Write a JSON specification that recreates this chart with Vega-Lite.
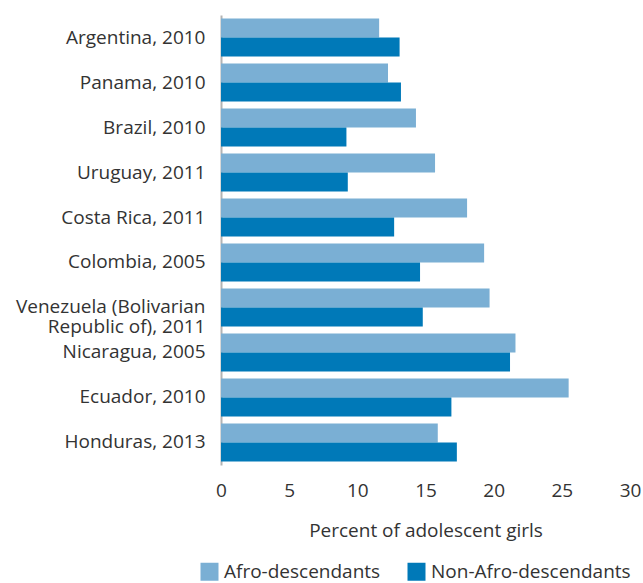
{
  "$schema": "https://vega.github.io/schema/vega-lite/v6.json",
  "width": 409,
  "height": 450,
  "autosize": {"type": "none"},
  "padding": {"left": 221, "top": 15, "right": 13, "bottom": 118},
  "background": "white",
  "config": {
    "view": {"stroke": null},
    "font": "Open Sans"
  },
  "data": {
    "values": [
      {"country": "Argentina, 2010", "group": "Afro-descendants", "value": 11.6},
      {"country": "Argentina, 2010", "group": "Non-Afro-descendants", "value": 13.1},
      {"country": "Panama, 2010", "group": "Afro-descendants", "value": 12.25},
      {"country": "Panama, 2010", "group": "Non-Afro-descendants", "value": 13.2},
      {"country": "Brazil, 2010", "group": "Afro-descendants", "value": 14.3},
      {"country": "Brazil, 2010", "group": "Non-Afro-descendants", "value": 9.2},
      {"country": "Uruguay, 2011", "group": "Afro-descendants", "value": 15.7},
      {"country": "Uruguay, 2011", "group": "Non-Afro-descendants", "value": 9.3},
      {"country": "Costa Rica, 2011", "group": "Afro-descendants", "value": 18.05},
      {"country": "Costa Rica, 2011", "group": "Non-Afro-descendants", "value": 12.7},
      {"country": "Colombia, 2005", "group": "Afro-descendants", "value": 19.3},
      {"country": "Colombia, 2005", "group": "Non-Afro-descendants", "value": 14.6},
      {"country": "Venezuela (Bolivarian|Republic of), 2011", "group": "Afro-descendants", "value": 19.7},
      {"country": "Venezuela (Bolivarian|Republic of), 2011", "group": "Non-Afro-descendants", "value": 14.8},
      {"country": "Nicaragua, 2005", "group": "Afro-descendants", "value": 21.6},
      {"country": "Nicaragua, 2005", "group": "Non-Afro-descendants", "value": 21.2},
      {"country": "Ecuador, 2010", "group": "Afro-descendants", "value": 25.5},
      {"country": "Ecuador, 2010", "group": "Non-Afro-descendants", "value": 16.9},
      {"country": "Honduras, 2013", "group": "Afro-descendants", "value": 15.9},
      {"country": "Honduras, 2013", "group": "Non-Afro-descendants", "value": 17.3}
    ]
  },
  "mark": {"type": "bar"},
  "encoding": {
    "y": {
      "field": "country",
      "type": "nominal",
      "sort": null,
      "scale": {"paddingInner": 0.156, "paddingOuter": 0.08},
      "axis": {
        "title": null,
        "ticks": false,
        "domain": true,
        "domainColor": "#b3b3b3",
        "domainWidth": 2,
        "labelExpr": "split(datum.label, '|')",
        "labelFontSize": 19,
        "labelColor": "#333333",
        "labelPadding": 16,
        "labelLineHeight": 19.5,
        "labelLimit": 300
      }
    },
    "yOffset": {"field": "group", "type": "nominal", "sort": ["Afro-descendants", "Non-Afro-descendants"]},
    "x": {
      "field": "value",
      "type": "quantitative",
      "scale": {"domain": [0, 30], "nice": false},
      "axis": {
        "title": "Percent of adolescent girls",
        "values": [0, 5, 10, 15, 20, 25, 30],
        "grid": false,
        "domain": false,
        "ticks": false,
        "labelFontSize": 19,
        "labelColor": "#333333",
        "labelPadding": 16,
        "titleFontSize": 19,
        "titleFontWeight": "normal",
        "titleColor": "#333333",
        "titlePadding": 21,
        "labelFlush": false
      }
    },
    "color": {
      "field": "group",
      "type": "nominal",
      "scale": {"domain": ["Afro-descendants", "Non-Afro-descendants"], "range": ["#7aafd4", "#0079b8"]},
      "legend": {
        "title": null,
        "orient": "none",
        "direction": "horizontal",
        "legendX": -21,
        "legendY": 547,
        "symbolType": "square",
        "symbolSize": 324,
        "symbolStrokeWidth": 0,
        "labelFontSize": 19,
        "labelColor": "#333333",
        "labelLimit": 300,
        "columnPadding": 26,
        "labelOffset": 5
      }
    }
  }
}
